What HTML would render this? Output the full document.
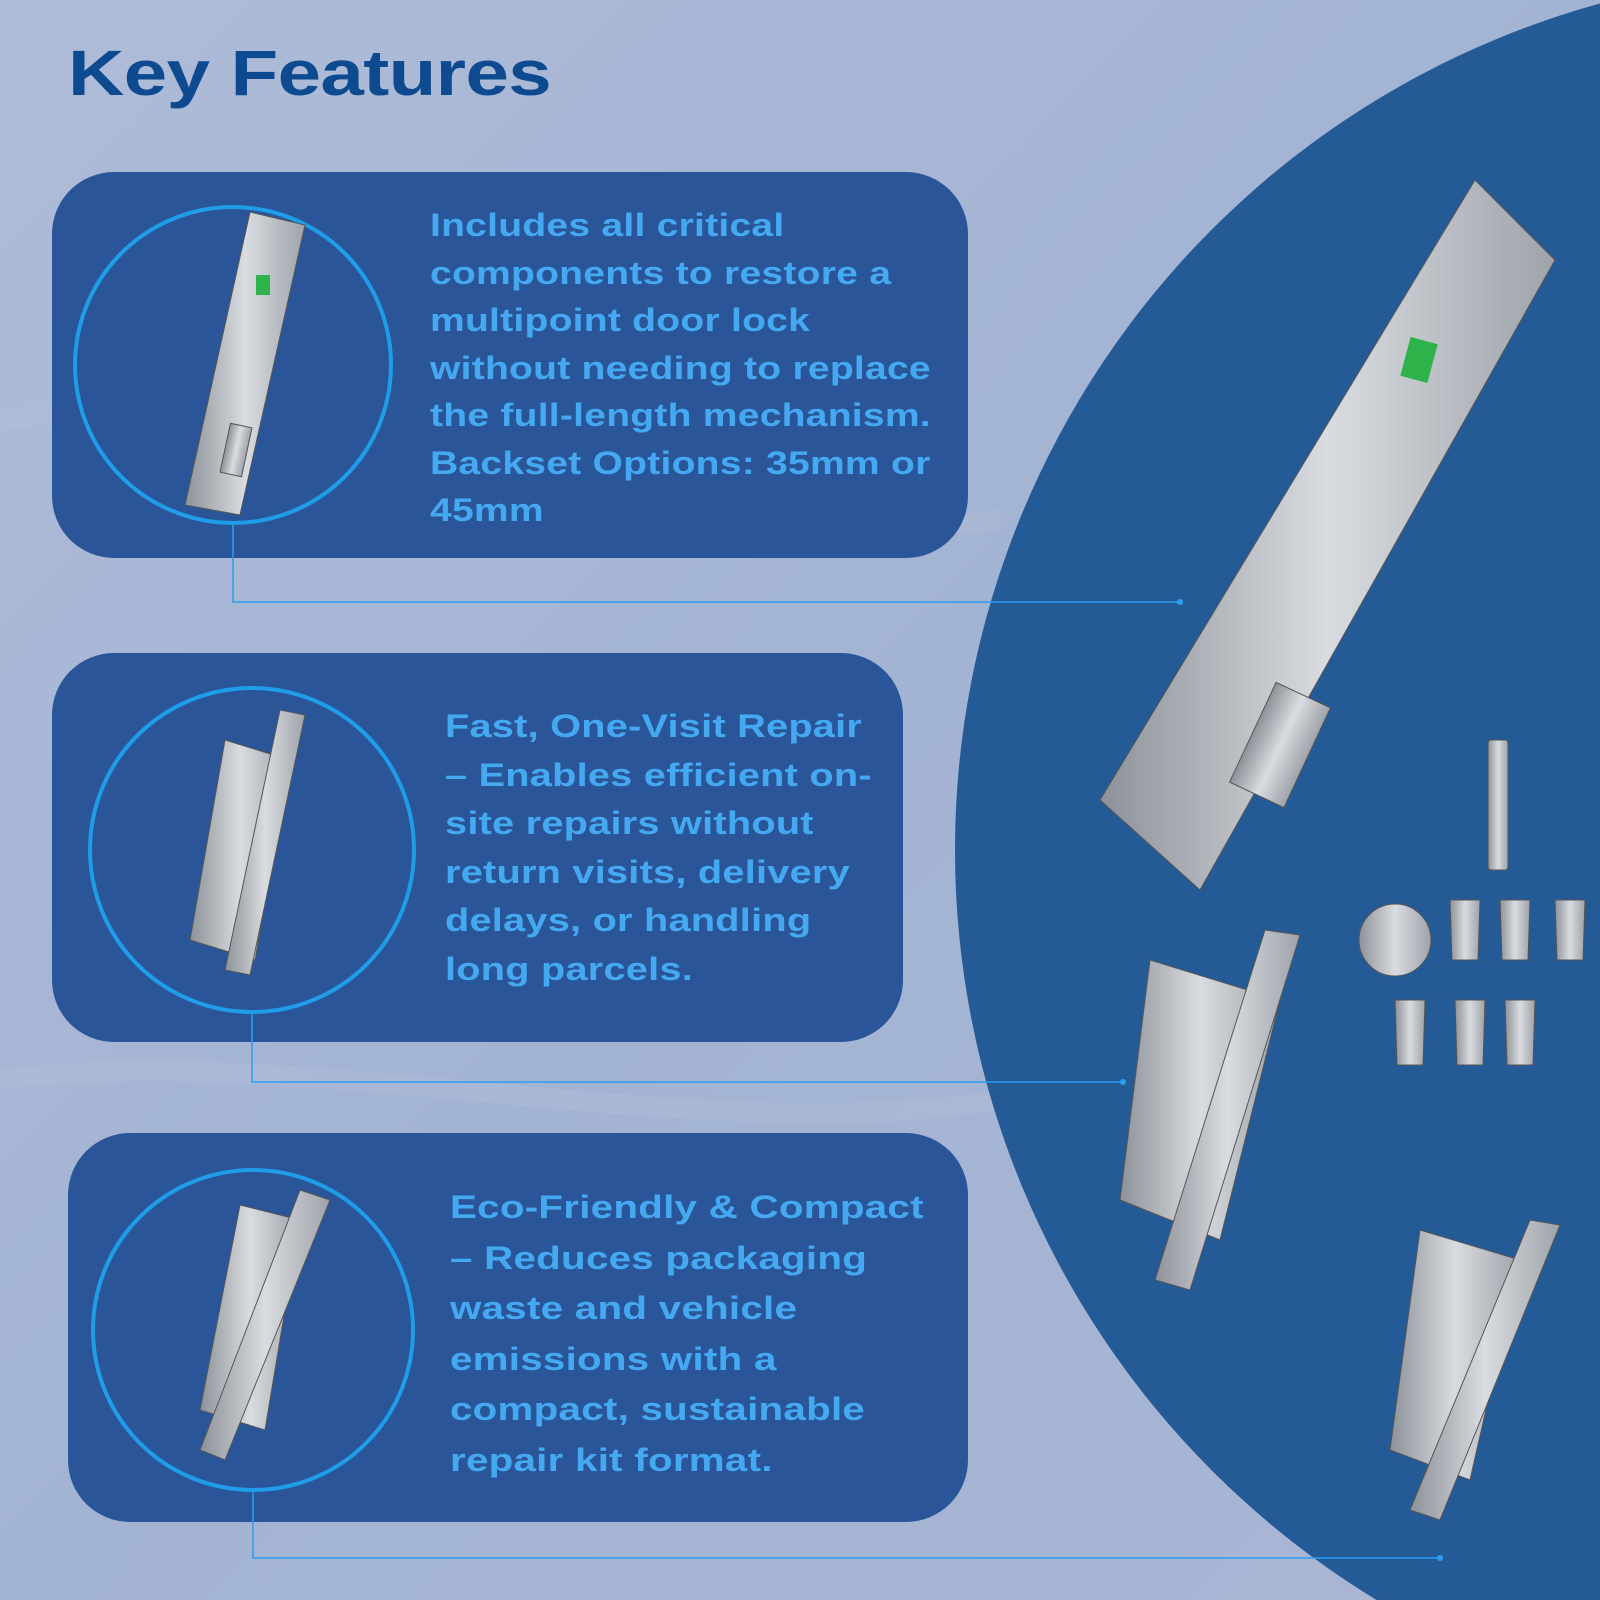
<!DOCTYPE html>
<html><head><meta charset="utf-8"><style>
html,body{margin:0;padding:0;width:1600px;height:1600px;overflow:hidden;}
body{background:#a8b7d5;position:relative;font-family:"Liberation Sans",sans-serif;}
svg{display:block;}
.t{position:absolute;color:#45a9f2;font-weight:bold;font-size:32px;letter-spacing:0.2px;transform:scaleX(1.22);transform-origin:0 0;white-space:nowrap;}
</style></head><body>
<svg width="1600" height="1600" style="position:absolute;left:0;top:0">
<defs>
<linearGradient id="bg" x1="0" y1="0" x2="1" y2="1">
<stop offset="0" stop-color="#aebcd8"/><stop offset="0.5" stop-color="#a3b3d3"/><stop offset="1" stop-color="#a9b6d4"/>
</linearGradient>
<linearGradient id="met" x1="0" y1="0" x2="1" y2="0">
<stop offset="0" stop-color="#8d9299"/><stop offset="0.5" stop-color="#d9dce0"/><stop offset="1" stop-color="#9ea3aa"/>
</linearGradient>
</defs>
<rect width="1600" height="1600" fill="url(#bg)"/>
<path d="M0 420 C300 380 600 560 1000 520" stroke="#b9c4dc" stroke-width="20" fill="none" opacity="0.3"/>
<path d="M0 1080 C300 1040 700 1150 1000 1100" stroke="#b9c4dc" stroke-width="20" fill="none" opacity="0.3"/>
<circle cx="1833" cy="850" r="878" fill="#245b97"/>
<rect x="52" y="172" width="916" height="386" rx="62" fill="#2a5699"/>
<rect x="52" y="653" width="851" height="389" rx="62" fill="#2a5699"/>
<rect x="68" y="1133" width="900" height="389" rx="62" fill="#2a5699"/>
<circle cx="233" cy="365" r="158" fill="none" stroke="#1f9de9" stroke-width="4"/>
<circle cx="252" cy="850" r="162" fill="none" stroke="#1f9de9" stroke-width="4"/>
<circle cx="253" cy="1330" r="160" fill="none" stroke="#1f9de9" stroke-width="4"/>
<g stroke="#2a9ef0" stroke-width="1.5" fill="none">
<polyline points="233,525 233,602 1180,602"/>
<polyline points="252,1014 252,1082 1123,1082"/>
<polyline points="253,1492 253,1558 1440,1558"/>
</g>
<g fill="#2a9ef0"><circle cx="1180" cy="602" r="3"/><circle cx="1123" cy="1082" r="3"/><circle cx="1440" cy="1558" r="3"/></g>
<g fill="url(#met)" stroke="#555" stroke-width="1">
<polygon points="250,212 305,225 240,515 185,505"/>
<rect x="225" y="425" width="22" height="50" transform="rotate(12 236 450)"/>
<polygon points="225,740 290,760 255,960 190,940"/>
<polygon points="280,710 305,715 250,975 225,970"/>
<polygon points="240,1205 300,1220 265,1430 200,1410"/>
<polygon points="300,1190 330,1200 225,1460 200,1450"/>
<polygon points="1475,180 1555,260 1200,890 1100,800"/>
<rect x="1250" y="690" width="60" height="110" transform="rotate(25 1280 745)"/>
<polygon points="1150,960 1280,1000 1220,1240 1120,1200"/>
<polygon points="1265,930 1300,935 1190,1290 1155,1280"/>
<polygon points="1420,1230 1520,1260 1470,1480 1390,1450"/>
<polygon points="1530,1220 1560,1225 1440,1520 1410,1510"/>
<rect x="1488" y="740" width="20" height="130" rx="3"/>
<circle cx="1395" cy="940" r="36"/>
<polygon points="1450,900 1480,900 1478,960 1452,960"/>
<polygon points="1500,900 1530,900 1528,960 1502,960"/>
<polygon points="1555,900 1585,900 1583,960 1557,960"/>
<polygon points="1395,1000 1425,1000 1423,1065 1397,1065"/>
<polygon points="1455,1000 1485,1000 1483,1065 1457,1065"/>
<polygon points="1505,1000 1535,1000 1533,1065 1507,1065"/>
</g>
<rect x="1405" y="340" width="28" height="40" fill="#2db34a" transform="rotate(15 1419 360)"/>
<rect x="256" y="275" width="14" height="20" fill="#2db34a"/>
</svg>
<div style="position:absolute;left:68px;top:36px;font-size:64px;font-weight:bold;color:#0d4a8f;letter-spacing:-0.5px;transform:scaleX(1.22);transform-origin:0 0;white-space:nowrap;">Key Features</div>
<div class="t" style="left:430px;top:202px;line-height:47.5px;">Includes all critical<br>components to restore a<br>multipoint door lock<br>without needing to replace<br>the full-length mechanism.<br>Backset Options: 35mm or<br>45mm</div>
<div class="t" style="left:445px;top:702px;line-height:48.5px;transform:scaleX(1.24);">Fast, One-Visit Repair<br>– Enables efficient on-<br>site repairs without<br>return visits, delivery<br>delays, or handling<br>long parcels.</div>
<div class="t" style="left:450px;top:1182px;line-height:50.5px;transform:scaleX(1.26);">Eco-Friendly &amp; Compact<br>– Reduces packaging<br>waste and vehicle<br>emissions with a<br>compact, sustainable<br>repair kit format.</div>
</body></html>
